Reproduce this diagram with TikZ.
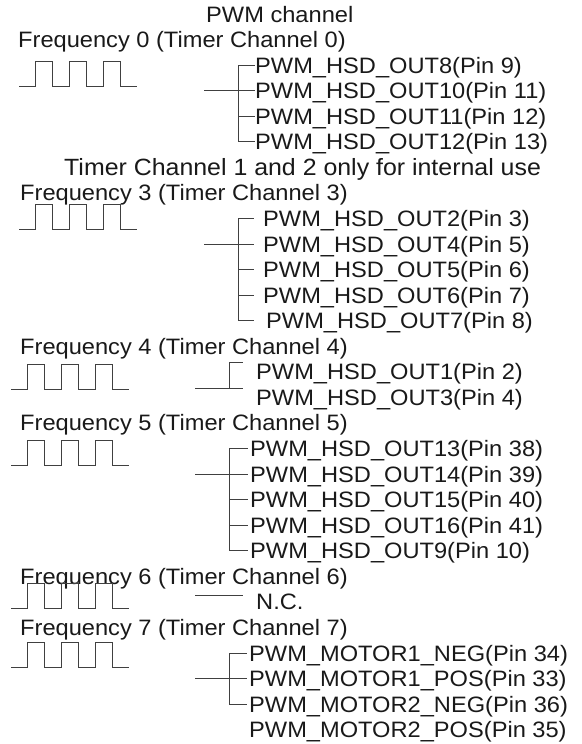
\documentclass[tikz,border=0pt]{standalone}
\usepackage{fontspec}
\setmainfont{Liberation Sans}[FakeStretch=1.06]
\usetikzlibrary{positioning}

% square wave: start x, y of the low level
\newcommand{\pwmwave}[2]{%
  \draw[wire] (#1,#2) -- ++(16.9,0) -- ++(0,-25) -- ++(16.9,0) -- ++(0,25)
    -- ++(16.9,0) -- ++(0,-25) -- ++(16.9,0) -- ++(0,25)
    -- ++(16.9,0) -- ++(0,-25) -- ++(16.9,0) -- ++(0,25) -- ++(16.9,0);}

\begin{document}
\begin{tikzpicture}[x=1pt, y=-1pt,
  wire/.style={line width=0.9pt, black!75},
  lbl/.style={anchor=west, inner sep=0pt, text height=16pt, text depth=0pt, text=black!90},
  every node/.style={font=\fontsize{22.3pt}{25.5pt}\selectfont}]
\useasboundingbox (0,0) rectangle (581,744);

% headings
\node[lbl] (title) at (206,14) {PWM channel};
\node[lbl] (freq0) at (18,39.6) {Frequency 0 (Timer Channel 0)};
\node[lbl, font=\fontsize{23.5pt}{25.5pt}\selectfont] (intern) at (64,167.4) {Timer Channel 1 and 2 only for internal use};
\node[lbl] (freq3) at (20,192.9) {Frequency 3 (Timer Channel 3)};
\node[lbl] (freq4) at (20,346.3) {Frequency 4 (Timer Channel 4)};
\node[lbl] (freq5) at (20,422.9) {Frequency 5 (Timer Channel 5)};
\node[lbl] (freq6) at (20,576.3) {Frequency 6 (Timer Channel 6)};
\node[lbl] (freq7) at (20,627.4) {Frequency 7 (Timer Channel 7)};

% waves
\pwmwave{19}{86}
\pwmwave{19}{229}
\pwmwave{11}{389}
\pwmwave{11}{465}
\pwmwave{11}{608}
\pwmwave{11}{667}

% channel 0
\node[lbl] (f0a) at (255,65.1) {PWM\_HSD\_OUT8(Pin 9)};
\node[lbl] (f0b) at (255,90.7) {PWM\_HSD\_OUT10(Pin 11)};
\node[lbl] (f0c) at (255,116.2) {PWM\_HSD\_OUT11(Pin 12)};
\node[lbl] (f0d) at (255,141.8) {PWM\_HSD\_OUT12(Pin 13)};
\coordinate (v0) at (238,0);
\coordinate (in0) at (204,90.7);
\draw[wire] (f0a.west -| v0) -- (f0d.west -| v0);
\foreach \n in {a,b,c,d}
  \draw[wire] (f0\n.west -| v0) -- (f0\n.west);
\draw[wire] (in0) -- (f0b.west -| v0);

% channel 3
\node[lbl] (f3a) at (263,218.5) {PWM\_HSD\_OUT2(Pin 3)};
\node[lbl] (f3b) at (263,244.0) {PWM\_HSD\_OUT4(Pin 5)};
\node[lbl] (f3c) at (263,269.6) {PWM\_HSD\_OUT5(Pin 6)};
\node[lbl] (f3d) at (263,295.2) {PWM\_HSD\_OUT6(Pin 7)};
\node[lbl] (f3e) at (266,320.7) {PWM\_HSD\_OUT7(Pin 8)};
\coordinate (v3) at (238,0);
\coordinate (in3) at (204,244.0);
\draw[wire] (f3a.west -| v3) -- (f3e.west -| v3);
\foreach \n in {a,b,c,d}
  \draw[wire] (f3\n.west -| v3) -- ([xshift=-9pt]f3\n.west);
\draw[wire] (f3e.west -| v3) -- ([xshift=-12pt]f3e.west);
\draw[wire] (in3) -- (f3b.west -| v3);

% channel 4
\node[lbl] (f4a) at (256,371.8) {PWM\_HSD\_OUT1(Pin 2)};
\node[lbl] (f4b) at (256,397.4) {PWM\_HSD\_OUT3(Pin 4)};
\coordinate (v4) at (229,0);
\coordinate (in4) at (195,388.4);
\draw[wire] (in4) -- ([xshift=-13pt,yshift=9pt]f4b.west);
\draw[wire] ([yshift=9pt]f4a.west -| v4) -- ([yshift=9pt]f4b.west -| v4);
\draw[wire] ([yshift=9pt]f4a.west -| v4) -- ([xshift=-13pt,yshift=9pt]f4a.west);

% channel 5
\node[lbl] (f5a) at (250,448.5) {PWM\_HSD\_OUT13(Pin 38)};
\node[lbl] (f5b) at (250,474.1) {PWM\_HSD\_OUT14(Pin 39)};
\node[lbl] (f5c) at (250,499.6) {PWM\_HSD\_OUT15(Pin 40)};
\node[lbl] (f5d) at (250,525.2) {PWM\_HSD\_OUT16(Pin 41)};
\node[lbl] (f5e) at (250,550.7) {PWM\_HSD\_OUT9(Pin 10)};
\coordinate (v5) at (229,0);
\coordinate (in5) at (195,474.1);
\draw[wire] (f5a.west -| v5) -- (f5e.west -| v5);
\foreach \n in {a,b,c,d,e}
  \draw[wire] (f5\n.west -| v5) -- ([xshift=-2pt]f5\n.west);
\draw[wire] (in5) -- (f5b.west -| v5);

% channel 6
\node[lbl] (nc) at (256,601.9) {N.C.};
\coordinate (in6) at (195,595.9);
\draw[wire] (in6) -- ([xshift=-13pt,yshift=6pt]nc.west);

% channel 7
\node[lbl] (f7a) at (249,653.0) {PWM\_MOTOR1\_NEG(Pin 34)};
\node[lbl] (f7b) at (249,678.5) {PWM\_MOTOR1\_POS(Pin 33)};
\node[lbl] (f7c) at (249,704.1) {PWM\_MOTOR2\_NEG(Pin 36)};
\node[lbl] (f7d) at (249,729.7) {PWM\_MOTOR2\_POS(Pin 35)};
\coordinate (v7) at (229,0);
\coordinate (in7) at (195,678.5);
\draw[wire] (f7a.west -| v7) -- (f7c.west -| v7);
\foreach \n in {a,b,c}
  \draw[wire] (f7\n.west -| v7) -- ([xshift=-2pt]f7\n.west);
\draw[wire] (in7) -- (f7b.west -| v7);
\end{tikzpicture}
\end{document}
